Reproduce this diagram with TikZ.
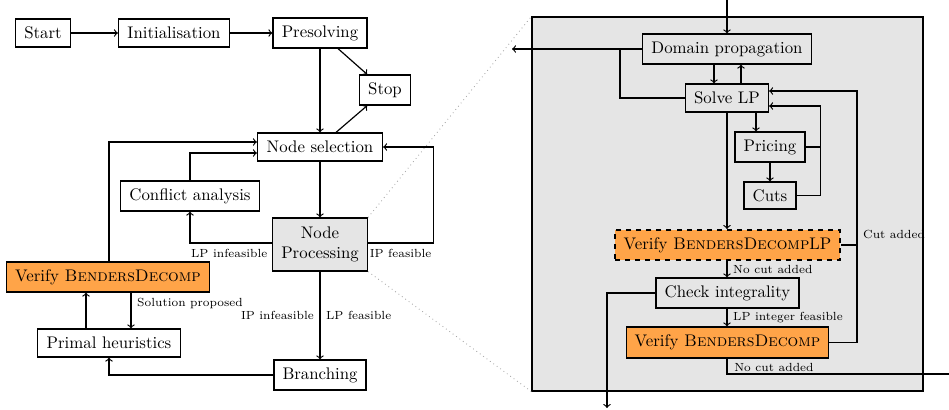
\documentclass[tikz,border=0pt]{standalone}
\usetikzlibrary{calc}
\definecolor{bdorange}{RGB}{255,164,72}
\definecolor{panelgray}{RGB}{229,229,229}
\begin{document}
\begin{tikzpicture}[x=0.595pt, y=-0.595pt,
  line width=0.7pt,
  bw/.style={minimum width=#1*0.595pt},
  bh/.style={minimum height=#1*0.595pt},
  box/.style={draw, fill=white, inner xsep=5pt, inner ysep=2pt, minimum height=28*0.595pt},
  gbox/.style={box, fill=panelgray},
  obox/.style={box, fill=bdorange},
  lbl/.style={font=\scriptsize},
  conn/.style={->}
]
\useasboundingbox (0,0) rectangle (949,409);

% right panel background
\node[draw, fill=panelgray, bw=391, bh=374, inner sep=0pt] (panel) at (727.5,204) {};

% left flow
\node[box, bw=55] (start) at (43,33) {Start};
\node[box, bw=111] (init) at (174,33) {Initialisation};
\node[box, bw=94, bh=30] (pre) at (320,33) {Presolving};
\node[box, bw=50, bh=30] (stop) at (385,90) {Stop};
\node[box, bw=125] (nsel) at (320,147) {Node selection};
\node[box, bw=139, bh=30] (conf) at (190,196) {Conflict analysis};
\node[gbox, bw=95, bh=53, align=center] (nproc) at (320,244.5) {Node\\Processing};
\node[obox, bw=201, bh=30] (vbd1) at (108,277) {Verify \textsc{BendersDecomp}};
\node[box, bw=143] (prim) at (109,343) {Primal heuristics};
\node[box, bw=92, bh=30] (branch) at (320,375) {Branching};

% zoom lines
\draw[gray!70, dotted, line width=0.5pt] (nproc.north east) -- (panel.north west);
\draw[gray!70, dotted, line width=0.5pt] (nproc.south east) -- (panel.south west);

% right flow
\node[gbox, bw=169, bh=30] (dp) at (727,49) {Domain propagation};
\node[gbox, bw=83] (slp) at (727,98) {Solve LP};
\node[gbox, bw=70, bh=30] (pricing) at (770,147) {Pricing};
\node[gbox, bw=52, bh=27] (cuts) at (770,195.5) {Cuts};
\node[obox, bw=225, bh=30, dashed, line width=1.2pt] (vbdlp) at (727.5,245) {Verify \textsc{BendersDecomp}LP};
\node[gbox, bw=143, bh=30] (check) at (727.5,293) {Check integrality};
\node[obox, bw=201, bh=31] (vbd2) at (727.5,342.5) {Verify \textsc{BendersDecomp}};

\coordinate (top) at (727,0);
\coordinate (out1) at (512,49);
\coordinate (out2) at (607,408);
\coordinate (out3) at (949,374);
\coordinate (cj) at (857,245);

% left connectors
\draw[conn] (start) -- (init);
\draw[conn] (init) -- (pre);
\draw[conn] (pre) -- (nsel);
\draw[conn] ($(pre.south)+(18,0)$) -- ($(stop.north west)+(8,0)$);
\draw[conn] ($(nsel.north)+(16,0)$) -- ($(stop.south west)+(8,0)$);
\draw[conn] (nsel) -- (nproc);
\draw[conn] ($(nproc.west)+(0,-1.5)$) -| node[lbl, below, pos=0.26] {LP infeasible} (conf.south);
\draw[conn] (conf.north) |- ($(nsel.west)+(0,6)$);
\draw[conn] ($(vbd1.north)+(1,0)$) |- ($(nsel.west)+(0,-5)$);
\draw[conn] ($(nproc.east)+(0,-1.5)$) -- node[lbl, below] {IP feasible} ++(65,0) |- (nsel.east);
\draw[conn] ($(vbd1.south)+(23,0)$) coordinate (a) -- node[lbl, right, pos=0.3] {Solution proposed} (a |- prim.north);
\draw[conn] ($(prim.north)+(-23,0)$) coordinate (b) -- (b |- vbd1.south);
\draw[conn] (nproc) -- node[lbl, left] {IP infeasible} node[lbl, right] {LP feasible} (branch);
\draw[conn] (branch.west) -| (prim.south);

% right connectors
\draw[conn] (top) -- (dp.north);
\draw[conn] ($(dp.south)+(-13,0)$) coordinate (c) -- (c |- slp.north);
\draw[conn] ($(slp.north)+(14,0)$) coordinate (d) -- (d |- dp.south);
\draw[conn] (dp.west) -- (out1);
\draw (slp.west) -| ($(dp.west)+(-22,0)$);
\draw[conn] ($(slp.south)+(29,0)$) coordinate (e) -- (e |- pricing.north);
\draw[conn] (pricing) -- (cuts);
\draw[conn] (cuts.east) -- ++(24,0) |- ($(slp.east)+(0,8)$);
\draw (pricing.east) -- ++(15,0);
\draw[conn] (slp.south) -- (vbdlp.north -| slp.south);
\draw (vbdlp.east) -- (cj) node[lbl, above right] {Cut added};
\draw[conn] (vbd2.east) -| (cj) |- ($(slp.east)+(0,-7)$);
\draw[conn] (vbdlp.south -| slp.south) -- node[lbl, right] {No cut added} (check.north -| slp.south);
\draw[conn] (check.west) -| (out2);
\draw[conn] (check.south -| slp.south) -- node[lbl, right] {LP integer feasible} (vbd2.north -| slp.south);
\draw (vbd2.south -| slp.south) |- node[lbl, above right, inner xsep=4pt, inner ysep=1pt, pos=0.5] {No cut added} (out3);
\end{tikzpicture}
\end{document}
